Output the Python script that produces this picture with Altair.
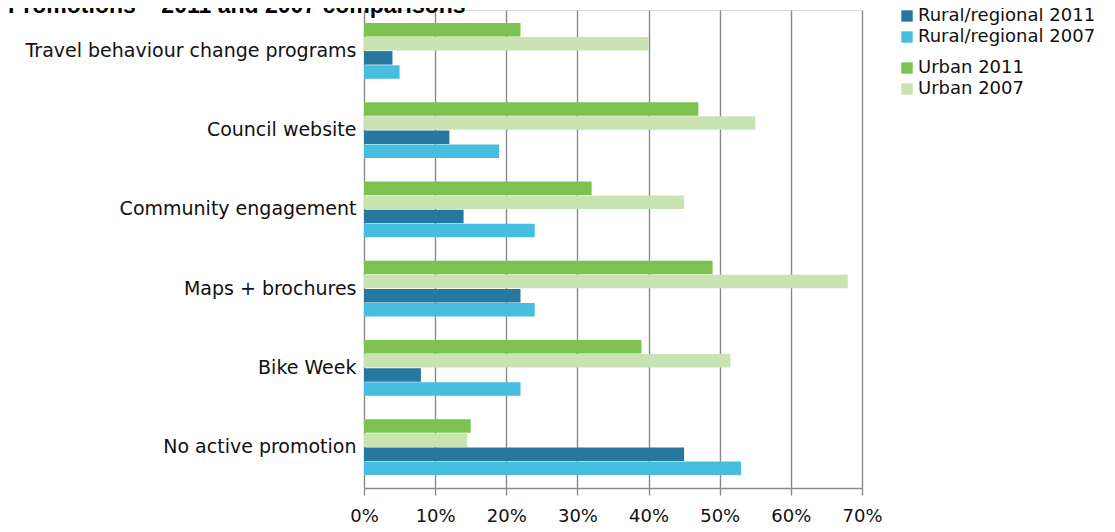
import altair as alt
import pandas as pd

categories = [
    "Travel behaviour change programs",
    "Council website",
    "Community engagement ",
    "Maps + brochures",
    "Bike Week",
    "No active promotion",
]
urban_2011 = [22, 47, 32, 49, 39, 15]
urban_2007 = [40, 55, 45, 68, 51.5, 14.5]
rural_2011 = [4, 12, 14, 22, 8, 45]
rural_2007 = [5, 19, 24, 24, 22, 53]

series_order = ["Urban 2011", "Urban 2007", "Rural/regional 2011", "Rural/regional 2007"]
tick_values = [0, 0.1, 0.2, 0.3, 0.4, 0.5, 0.6, 0.7]

rows = []
for i, c in enumerate(categories):
    rows.append({"cat": c, "series": "Urban 2011", "group": "Urban", "v": urban_2011[i] / 100})
    rows.append({"cat": c, "series": "Urban 2007", "group": "Urban", "v": urban_2007[i] / 100})
    rows.append({"cat": c, "series": "Rural/regional 2011", "group": "Rural", "v": rural_2011[i] / 100})
    rows.append({"cat": c, "series": "Rural/regional 2007", "group": "Rural", "v": rural_2007[i] / 100})
df = pd.DataFrame(rows)

FONT = "DejaVu Sans"
FS = 19

x_enc = alt.X(
    "v:Q",
    scale=alt.Scale(domain=[0, 0.7], nice=False),
    axis=alt.Axis(
        values=tick_values, format=".0%", title=None, grid=True, labelFlush=False,
        gridColor="#8a8a8a", gridWidth=1.4, domainColor="#8a8a8a", domainWidth=1.4,
        tickColor="#8a8a8a", tickWidth=1.4, tickSize=7, labelPadding=12,
        labelFont=FONT, labelFontSize=18, labelColor="#111111",
    ),
)
y_enc = alt.Y(
    "cat:N", sort=categories,
    scale=alt.Scale(paddingInner=0.29, paddingOuter=0.16),
    axis=alt.Axis(
        title=None, ticks=False, domain=False, labelPadding=8,
        labelFont=FONT, labelFontSize=FS, labelColor="#111111", labelLimit=400,
    ),
)
yoff = alt.YOffset("series:N", sort=series_order, scale=alt.Scale(domain=series_order))

base = alt.Chart(df)

legend_common = dict(
    title=None, orient="none", symbolType="square", symbolSize=130, symbolStrokeWidth=0,
    labelFont=FONT, labelFontSize=18, labelColor="#111111",
    rowPadding=3, labelOffset=2, labelLimit=300,
)

rural = base.transform_filter(alt.datum.group == "Rural").mark_bar(size=13.5).encode(
    x=x_enc, y=y_enc, yOffset=yoff,
    color=alt.Color(
        "series:N",
        scale=alt.Scale(domain=["Rural/regional 2011", "Rural/regional 2007"],
                        range=["#26789f", "#47bde0"]),
        legend=alt.Legend(legendX=534, legendY=-3, **legend_common),
    ),
)
urban = base.transform_filter(alt.datum.group == "Urban").mark_bar(size=13.5).encode(
    x=x_enc, y=y_enc, yOffset=yoff,
    color=alt.Color(
        "series:N",
        scale=alt.Scale(domain=["Urban 2011", "Urban 2007"],
                        range=["#7cc24e", "#c9e3b3"]),
        legend=alt.Legend(legendX=534, legendY=49, **legend_common),
    ),
)

chart = (
    alt.layer(urban, rural)
    .resolve_scale(color="independent")
    .properties(
        width=498, height=478,
        autosize=alt.AutoSizeParams(type="none"),
        padding={"left": 356, "top": 2, "right": 245, "bottom": 36},
        title=alt.TitleParams(
            "Promotions \u2013 2011 and 2007 comparisons",
            font="Liberation Sans", fontSize=23, fontWeight="bold", color="#000000",
            anchor="start", frame="group", orient="top", baseline="alphabetic",
            offset=-29, dx=-356,
        ),
    )
    .configure_view(stroke=None)
    .configure(background="white")
)

chart.save("out.html", embed_options={"renderer": "svg", "actions": False})
